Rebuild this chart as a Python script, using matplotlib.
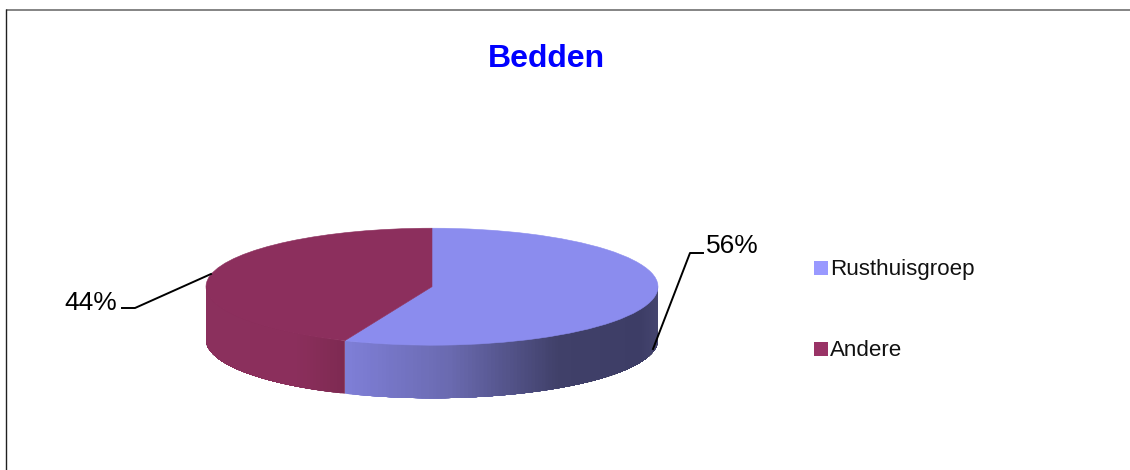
import numpy as np
import matplotlib
matplotlib.use('Agg')
import matplotlib.pyplot as plt
from matplotlib.colors import to_rgb

plt.rcParams['font.family'] = ['Liberation Sans', 'DejaVu Sans']

categories = ['Rusthuisgroep', 'Andere']
values = [56.3, 43.7]
title = 'Bedden'

top_colors = ['#8b8cee', '#8c2f5d']
legend_colors = ['#9999ff', '#993366']

# side shading, left to right (x in pie radius)
shade_x = [[-0.39, 0.08, 0.56, 0.92, 1.0], [-1.0, -0.6, -0.39]]
shade_c = [['#7f7fd8', '#6a6ab0', '#404069', '#3d3d66', '#45456f'],
           ['#8b305d', '#8b2f5c', '#7e2a52']]

W, H = 1130, 470
cx, cy, rx, ry = 432, 286.7, 226, 58.5
depth = 53 / ry


def shade(x, i):
    rgb = np.array([to_rgb(c) for c in shade_c[i]])
    return [np.interp(x, shade_x[i], rgb[:, k]) for k in range(3)]


fig = plt.figure(figsize=(W / 100, H / 100), dpi=100)

# pie lives in radius units, squashed by the axis limits
ax = fig.add_axes([0, 0, 1, 1])
ax.pie(values, startangle=90, counterclock=False, colors=top_colors,
       radius=1, wedgeprops={'linewidth': 0.4, 'zorder': 5})
for w, c in zip(ax.patches, top_colors):
    w.set_edgecolor(c)
ax.set_aspect('auto')
ax.set_xlim(-cx / rx, (W - cx) / rx)
ax.set_ylim((cy - H) / ry, cy / ry)
ax.axis('off')

# side wall, only the front half shows
# each strip runs on to the end of its slice and the next paints over it, no seams
split = 360 * values[0] / sum(values)
ranges = [(0, 90 - split), (90 - split, -180)]
for i, (a0, a1) in enumerate(ranges):
    angs = np.radians(np.linspace(a0, a1, int(abs(a1 - a0)) + 2))
    if i == 0:
        angs = angs[::-1]   # paint purple from its left end too
    for k in range(len(angs) - 1):
        rest = angs[k:]
        xs = np.concatenate([np.cos(rest), np.cos(rest[::-1])])
        ys = np.concatenate([np.sin(rest), np.sin(rest[::-1]) - depth])
        mid = (np.cos(angs[k]) + np.cos(angs[k + 1])) / 2
        ax.fill(xs, ys, color=shade(mid, i), lw=0, zorder=2 + i * 0.1)

# frame, title, labels and legend in pixel coordinates
ov = fig.add_axes([0, 0, 1, 1])
ov.set_xlim(0, W)
ov.set_ylim(H, 0)
ov.axis('off')
ov.patch.set_alpha(0)

ov.plot([6, W], [9.7, 9.7], color='#707070', lw=1.2, solid_capstyle='butt')
ov.plot([6.3, 6.3], [9, H], color='#202020', lw=1.0, solid_capstyle='butt')

ov.text(546, 59, title, color='#0000ff', fontsize=23, fontweight='bold',
        ha='center', va='center')

ov.plot([653, 690, 703], [349, 253, 253], color='black', lw=1.4)
ov.plot([211, 135, 122], [274, 308, 308], color='black', lw=1.4)
ov.text(706, 246, '%.0f%%' % values[0], fontsize=19, ha='left', va='center')
ov.text(117, 303, '%.0f%%' % values[1], fontsize=19, ha='right', va='center')

for name, col, y in zip(categories, legend_colors, [268, 349]):
    ov.scatter([820.5], [y], marker='s', s=105, color=col, linewidths=0)
    ov.text(830, y + 2, name, fontsize=16.1, ha='left', va='center', color='#111111')

fig.savefig('out.png', dpi=100)
